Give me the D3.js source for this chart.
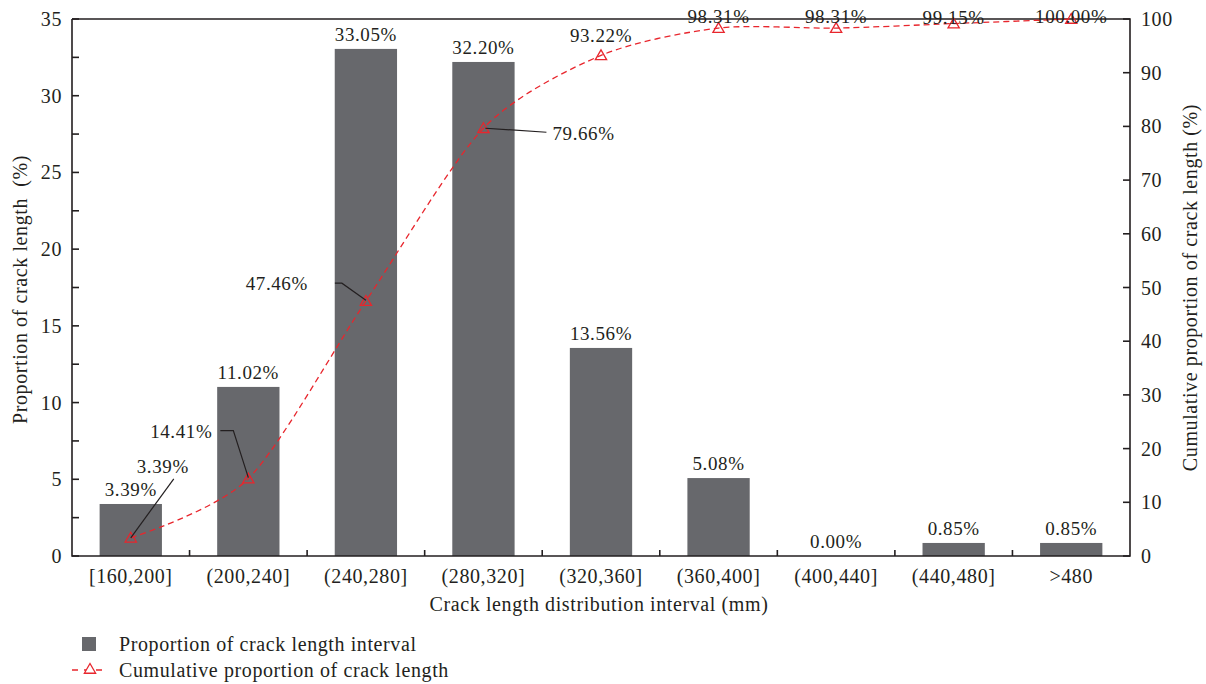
<!DOCTYPE html>
<html>
<head>
<meta charset="utf-8">
<script src="https://cdn.jsdelivr.net/npm/d3@7"></script>
<style>
    body { margin: 0; background: #fff; }
    svg text { font-family: "Liberation Serif", "DejaVu Serif", serif; fill: #231f20; letter-spacing: 0.6px; }
</style>
</head>
<body>
<svg id="chart" width="1206" height="684"></svg>
<script>
// chart data
const categories = ['[160,200]', '(200,240]', '(240,280]', '(280,320]', '(320,360]', '(360,400]', '(400,440]', '(440,480]', '>480'];
const proportion = [3.39, 11.02, 33.05, 32.20, 13.56, 5.08, 0.00, 0.85, 0.85];
const cumulative = [3.39, 14.41, 47.46, 79.66, 93.22, 98.31, 98.31, 99.15, 100.00];
const leftTicks = [0, 5, 10, 15, 20, 25, 30, 35];
const rightTicks = [0, 10, 20, 30, 40, 50, 60, 70, 80, 90, 100];

const margin = { left: 72, right: 1130, top: 19, bottom: 556 };
const barColor = '#67686c',
    red = '#e8262d',
    ink = '#231f20';

var svg = d3.select('#chart');

var x = d3.scaleBand()
    .domain(categories)
    .range([margin.left, margin.right])
    .paddingInner(0.47)
    .paddingOuter(0.235);

var yL = d3.scaleLinear().domain([0, 35]).range([margin.bottom, margin.top]);
var yR = d3.scaleLinear().domain([0, 100]).range([margin.bottom, margin.top]);

const cx = (i) => { return x(categories[i]) + x.bandwidth() / 2; };

// bars
svg.append('g').selectAll('rect')
    .data(proportion)
    .enter().append('rect')
    .attr('x', (d, i) => { return x(categories[i]); })
    .attr('y', (d) => { return yL(d); })
    .attr('width', x.bandwidth())
    .attr('height', (d) => { return yL(0) - yL(d); })
    .attr('fill', barColor);

// bar value labels
svg.append('g').selectAll('text')
    .data(proportion)
    .enter().append('text')
    .attr('x', (d, i) => { return cx(i); })
    .attr('y', (d) => { return yL(d) - 8; })
    .attr('text-anchor', 'middle')
    .attr('font-size', 19)
    .text((d) => { return d.toFixed(2) + '%'; });

// frame: left, bottom, right axis lines and top border
var frame = svg.append('g').attr('stroke', ink).attr('stroke-width', 1.6).attr('fill', 'none');
frame.append('path')
    .attr('d', 'M' + margin.left + ',' + margin.top + 'V' + margin.bottom + 'H' + margin.right + 'V' + margin.top + 'H' + margin.left);

// left axis ticks (inward) with minor ticks
var minor = d3.range(0, 35.01, 2.5);
frame.selectAll('.lt')
    .data(minor)
    .enter().append('line')
    .attr('x1', margin.left)
    .attr('x2', margin.left + 7)
    .attr('y1', (d) => { return yL(d); })
    .attr('y2', (d) => { return yL(d); });

svg.append('g').selectAll('text')
    .data(leftTicks)
    .enter().append('text')
    .attr('x', margin.left - 10)
    .attr('y', (d) => { return yL(d) + 7; })
    .attr('text-anchor', 'end')
    .attr('font-size', 20)
    .text((d) => { return d; });

// right axis ticks
frame.selectAll('.rt')
    .data(rightTicks)
    .enter().append('line')
    .attr('x1', margin.right)
    .attr('x2', margin.right - 7)
    .attr('y1', (d) => { return yR(d); })
    .attr('y2', (d) => { return yR(d); });

svg.append('g').selectAll('text')
    .data(rightTicks)
    .enter().append('text')
    .attr('x', margin.right + 11)
    .attr('y', (d) => { return yR(d) + 7; })
    .attr('font-size', 20)
    .text((d) => { return d; });

// x ticks between categories
frame.selectAll('.xt')
    .data(d3.range(1, categories.length))
    .enter().append('line')
    .attr('x1', (d) => { return margin.left + d * x.step(); })
    .attr('x2', (d) => { return margin.left + d * x.step(); })
    .attr('y1', margin.bottom)
    .attr('y2', margin.bottom - 6);

svg.append('g').selectAll('text')
    .data(categories)
    .enter().append('text')
    .attr('x', (d, i) => { return cx(i); })
    .attr('y', margin.bottom + 27)
    .attr('text-anchor', 'middle')
    .attr('font-size', 20)
    .text((d) => { return d; });

// axis titles
svg.append('text')
    .attr('x', (margin.left + margin.right) / 2 - 2)
    .attr('y', 611)
    .attr('text-anchor', 'middle')
    .attr('font-size', 20)
    .text('Crack length distribution interval (mm)');

svg.append('text')
    .attr('transform', 'translate(27,' + ((margin.top + margin.bottom) / 2 + 2) + ') rotate(-90)')
    .attr('text-anchor', 'middle')
    .attr('font-size', 20)
    .attr('xml:space', 'preserve')
    .text('Proportion of crack length  (%)');

svg.append('text')
    .attr('transform', 'translate(1197,' + ((margin.top + margin.bottom) / 2) + ') rotate(-90)')
    .attr('text-anchor', 'middle')
    .attr('font-size', 20)
    .text('Cumulative proportion of crack length (%)');

// cumulative curve
svg.append('path')
    .datum(cumulative)
    .attr('fill', 'none')
    .attr('stroke', red)
    .attr('stroke-width', 1.3)
    .attr('stroke-dasharray', '6,4')
    .attr('d', d3.line()
        .x((d, i) => { return cx(i); })
        .y((d) => { return yR(d); })
        .curve(d3.curveCardinal.tension(0.2)));

// triangle markers
var tri = d3.symbol().type(d3.symbolTriangle).size(55);
svg.append('g').selectAll('path')
    .data(cumulative)
    .enter().append('path')
    .attr('transform', (d, i) => { return 'translate(' + cx(i) + ',' + (yR(d) + 1) + ')'; })
    .attr('d', tri)
    .attr('fill', 'none')
    .attr('stroke', red)
    .attr('stroke-width', 1.3);

// cumulative labels: offsets relative to the marker, leader line when needed
const cumLabels = [
    { dx: 32, dy: -65, anchor: 'middle', leader: [[43, -59], [0, 0]] },
    { dx: -36, dy: -41, anchor: 'end', leader: [[-28, -48], [-15, -48], [0, -1]] },
    { dx: -58, dy: -11, anchor: 'end', leader: [[-31, -18], [-24, -18], [0, -1]] },
    { dx: 69, dy: 12, anchor: 'start', leader: [[2, 0], [63, 4]] },
    { dx: 0, dy: -13, anchor: 'middle' },
    { dx: 0, dy: -5, anchor: 'middle' },
    { dx: 0, dy: -5, anchor: 'middle' },
    { dx: 0, dy: 0, anchor: 'middle' },
    { dx: 0, dy: 4, anchor: 'middle' }
];

var ann = svg.append('g');
cumulative.forEach((d, i) => {
    var px = cx(i),
        py = yR(d),
        lab = cumLabels[i];
    if (lab.leader) {
        ann.append('path')
            .attr('fill', 'none')
            .attr('stroke', ink)
            .attr('stroke-width', 1.2)
            .attr('d', d3.line()(lab.leader.map((p) => { return [px + p[0], py + p[1]]; })));
    }
    ann.append('text')
        .attr('x', px + lab.dx)
        .attr('y', py + lab.dy)
        .attr('text-anchor', lab.anchor)
        .attr('font-size', 19)
        .text(d.toFixed(2) + '%');
});

// legend
var legend = svg.append('g');
legend.append('rect')
    .attr('x', 82).attr('y', 637)
    .attr('width', 14).attr('height', 14)
    .attr('fill', barColor);
legend.append('text')
    .attr('x', 119).attr('y', 651)
    .attr('font-size', 20)
    .text('Proportion of crack length interval');
legend.append('line')
    .attr('x1', 72).attr('x2', 108)
    .attr('y1', 670).attr('y2', 670)
    .attr('stroke', red)
    .attr('stroke-width', 1.3)
    .attr('stroke-dasharray', '6,6');
legend.append('path')
    .attr('transform', 'translate(90,670)')
    .attr('d', tri)
    .attr('fill', '#fff')
    .attr('stroke', red)
    .attr('stroke-width', 1.3);
legend.append('text')
    .attr('x', 119).attr('y', 677)
    .attr('font-size', 20)
    .text('Cumulative proportion of crack length');
</script>
</body>
</html>
